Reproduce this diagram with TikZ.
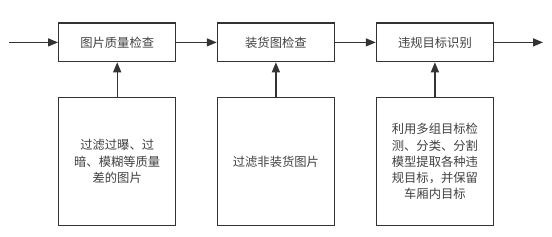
\documentclass[tikz,border=0pt]{standalone}
\usepackage{fontspec}
\setmainfont{Noto Sans CJK SC}
\usetikzlibrary{arrows.meta}
\definecolor{linec}{HTML}{333333}
\definecolor{textc}{HTML}{404040}
\begin{document}
\begin{tikzpicture}[x=1pt,y=-1pt,
  box/.style={draw=linec,line width=1.3pt,minimum width=117pt,inner sep=0pt,text=textc,font=\fontsize{12.3}{16.3}\selectfont,align=center},
  topbox/.style={box,minimum height=38.5pt},
  botbox/.style={box,minimum height=128.5pt},
  arr/.style={draw=linec,line width=1.3pt,-{Triangle[length=10pt,width=8pt]}}]
\useasboundingbox (0,0) rectangle (552,237);
\node[topbox] (t1) at (117.2,42.4) {图片质量检查};
\node[topbox] (t2) at (275.9,42.4) {装货图检查};
\node[topbox] (t3) at (434.9,42.4) {违规目标识别};
\node[botbox] (b1) at (117.2,161.6) {过滤过曝、过\\暗、模糊等质量\\差的图片};
\node[botbox] (b2) at (275.9,161.6) {过滤非装货图片};
\node[botbox] (b3) at (434.9,161.6) {利用多组目标检\\测、分类、分割\\模型提取各种违\\规目标，并保留\\车厢内目标};
\coordinate (in) at (9,42.4);
\coordinate (out) at (543,42.4);
\draw[arr] (in) -- (t1);
\draw[arr] (t1) -- (t2);
\draw[arr] (t2) -- (t3);
\draw[arr] (t3) -- (out);
\draw[arr] (b1) -- (t1);
\draw[arr] (b2) -- (t2);
\draw[arr] (b3) -- (t3);
\end{tikzpicture}
\end{document}
